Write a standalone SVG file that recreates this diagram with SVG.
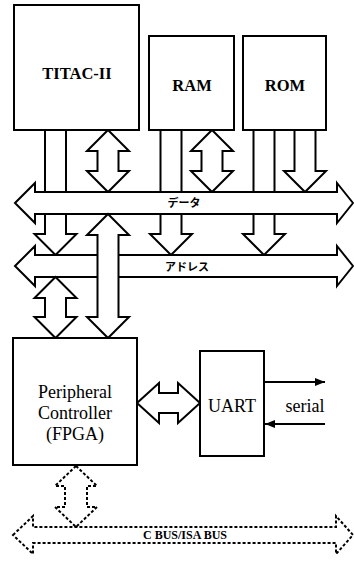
<svg xmlns="http://www.w3.org/2000/svg" width="354" height="561" viewBox="0 0 354 561">
<style>
.box{fill:#fff;stroke:#000;stroke-width:2}
.ar{fill:#fff;stroke:#000;stroke-width:2;stroke-linejoin:miter}
.da{fill:#fff;stroke:#000;stroke-width:2;stroke-dasharray:3 2}
.ln{stroke:#000;stroke-width:2;fill:none}
text{fill:#000;text-anchor:middle}
</style>
<defs>
<marker id="ah" markerWidth="10" markerHeight="8" refX="10" refY="4" orient="auto" markerUnits="userSpaceOnUse">
<path d="M0,0 L10,4 L0,8 Z" fill="#000"/>
</marker>
</defs>
<g id="connectors">
<path class="ar" d="M45,130 L66,130 L66,234 L76.5,234 L55.5,255 L34.5,234 L45,234 Z"/>
<path class="ar" d="M160.5,130 L181.5,130 L181.5,234 L192,234 L171,255 L150,234 L160.5,234 Z"/>
<path class="ar" d="M253.5,130 L274.5,130 L274.5,234 L285,234 L264,255 L243,234 L253.5,234 Z"/>
<path class="ar" d="M108,130 L129,151 L118.5,151 L118.5,171 L129,171 L108,192 L87,171 L97.5,171 L97.5,151 L87,151 Z"/>
<path class="ar" d="M212,130 L233,151 L222.5,151 L222.5,171 L233,171 L212,192 L191,171 L201.5,171 L201.5,151 L191,151 Z"/>
<path class="ar" d="M294.5,130 L315.5,130 L315.5,171 L326,171 L305,192 L284,171 L294.5,171 Z"/>
<g id="data-bus">
<path class="ar" d="M15,203 L35,183 L35,192 L337,192 L337,183 L353,203 L337,223 L337,214 L35,214 L35,223 Z"/>
<text x="184" y="207" font-family="Noto Sans CJK JP, sans-serif" font-size="11" font-weight="bold">データ</text>
</g>
<g id="address-bus">
<path class="ar" d="M15,266 L35,246 L35,255 L337,255 L337,246 L353,266 L337,286 L337,277 L35,277 L35,286 Z"/>
<text x="187" y="271" font-family="Noto Sans CJK JP, sans-serif" font-size="11" font-weight="bold">アドレス</text>
</g>
<path class="ar" d="M108,214 L129,235 L118.5,235 L118.5,317 L129,317 L108,338 L87,317 L97.5,317 L97.5,235 L87,235 Z"/>
<path class="ar" d="M55.5,277 L76.5,298 L66,298 L66,317 L76.5,317 L55.5,338 L34.5,317 L45,317 L45,298 L34.5,298 Z"/>
<path class="ar" d="M137,403 L159,383 L159,393 L178,393 L178,383 L200,403 L178,423 L178,413 L159,413 L159,423 Z"/>
<path class="da" d="M76,466 L97,486 L87,486 L87,507 L97,507 L76,527 L55,507 L65,507 L65,486 L55,486 Z"/>
<line class="ln" x1="264" y1="382" x2="325" y2="382" marker-end="url(#ah)"/>
<line class="ln" x1="325" y1="424" x2="265" y2="424" marker-end="url(#ah)"/>
</g>
<g id="titac">
<rect class="box" x="14" y="5" width="125" height="125"/>
<text x="77" y="79" font-family="Liberation Serif, serif" font-size="16.5" font-weight="bold">TITAC-II</text>
</g>
<g id="ram">
<rect class="box" x="149" y="36" width="85" height="94"/>
<text x="192" y="91" font-family="Liberation Serif, serif" font-size="16.5" font-weight="bold">RAM</text>
</g>
<g id="rom">
<rect class="box" x="243" y="36" width="83" height="94"/>
<text x="285" y="91" font-family="Liberation Serif, serif" font-size="16.5" font-weight="bold">ROM</text>
</g>
<g id="peripheral" font-family="Liberation Serif, serif" font-size="18">
<rect class="box" x="13" y="338" width="124" height="127"/>
<text x="75" y="398">Peripheral</text>
<text x="75" y="419">Controller</text>
<text x="75" y="440">(FPGA)</text>
</g>
<g id="uart">
<rect class="box" x="200" y="351" width="64" height="105"/>
<text x="232" y="412" font-family="Liberation Serif, serif" font-size="18">UART</text>
</g>
<g id="serial">
<text x="305" y="412" font-family="Liberation Serif, serif" font-size="18">serial</text>
</g>
<g id="cbus">
<path class="da" d="M13,535 L33,516 L33,527 L336,527 L336,516 L353,535 L336,554 L336,543 L33,543 L33,554 Z"/>
<text x="185" y="539" font-family="Liberation Serif, serif" font-size="12" font-weight="bold">C BUS/ISA BUS</text>
</g>
</svg>
